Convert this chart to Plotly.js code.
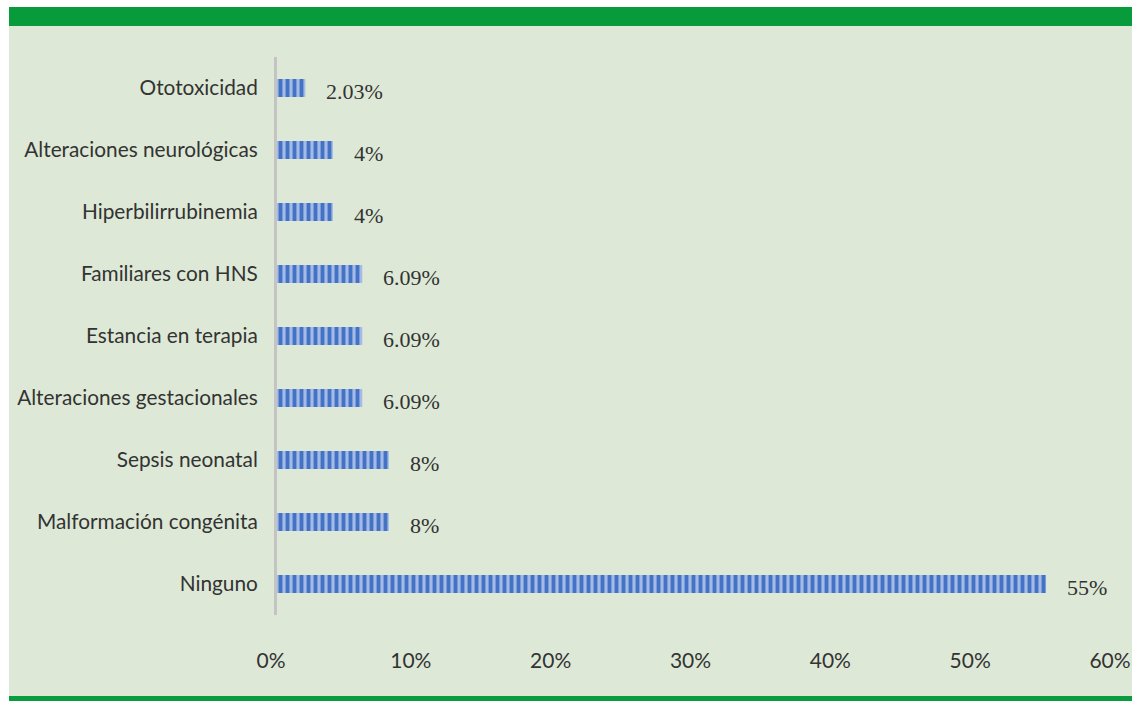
<!DOCTYPE html>
<html>
<head>
<meta charset="utf-8">
<script src="https://cdn.plot.ly/plotly-3.0.1.min.js"></script>
<style>
html,body{margin:0;padding:0;background:#fff;}
#wrap{position:relative;width:1132px;height:701px;overflow:hidden;background:#fff;}
#bg{position:absolute;left:9px;top:26px;width:1123px;height:671px;background:#dde9d6;}
#topband{position:absolute;left:9px;top:7px;width:1123px;height:19px;background:#089b3c;}
#botline{position:absolute;left:9px;top:696px;width:1123px;height:5px;background:#0a9d3f;}
#chart{position:absolute;left:0;top:0;width:1132px;height:701px;}
</style>
</head>
<body>
<div id="wrap">
<div id="bg"></div>
<div id="topband"></div>
<div id="botline"></div>
<div id="chart"></div>
</div>
<script>
var categories = ["Ninguno","Malformación congénita","Sepsis neonatal","Alteraciones gestacionales","Estancia en terapia","Familiares con HNS","Hiperbilirrubinemia","Alteraciones neurológicas","Ototoxicidad"];
var values = [55, 8, 8, 6.09, 6.09, 6.09, 4, 4, 2.03];
var valueLabels = ["55%","8%","8%","6.09%","6.09%","6.09%","4%","4%","2.03%"];
var tickVals = [0,10,20,30,40,50,60];
var tickText = ["0%","10%","20%","30%","40%","50%","60%"];

var trace = {
  type: "bar",
  orientation: "h",
  y: categories,
  x: values,
  width: 0.29,
  marker: {
    color: "#9ab3e0",
    line: {width: 0},
    pattern: {shape: "|", fgcolor: "#4472c4", bgcolor: "#a3bbe6", size: 7, solidity: 0.55}
  },
  hoverinfo: "skip"
};

var annotations = categories.map(function(c, i){
  return {
    x: values[i], y: c, xref: "x", yref: "y",
    text: valueLabels[i], showarrow: false,
    xanchor: "left", yanchor: "middle", xshift: 19, yshift: -3,
    font: {family: "Liberation Serif, DejaVu Serif, serif", size: 22, color: "#333333"}
  };
});

var layout = {
  width: 1132, height: 701,
  paper_bgcolor: "rgba(0,0,0,0)",
  plot_bgcolor: "rgba(0,0,0,0)",
  margin: {l: 277, r: 16, t: 57, b: 86},
  showlegend: false,
  xaxis: {
    range: [0, 60],
    tickvals: tickVals, ticktext: tickText,
    showgrid: false, zeroline: false, showline: false,
    ticks: "", ticklabelstandoff: 31, ticklabelshift: -6,
    tickfont: {family: "Lato, Open Sans, sans-serif", size: 21, color: "#333333"},
    fixedrange: true
  },
  yaxis: {
    type: "category",
    range: [-0.5, 8.5],
    showgrid: false, zeroline: false,
    showline: true, linecolor: "#c4c4c4", linewidth: 3,
    ticks: "", ticklabelstandoff: 12,
    tickfont: {family: "Lato, Open Sans, sans-serif", size: 20.8, color: "#333333"},
    fixedrange: true
  },
  annotations: annotations
};

Plotly.newPlot("chart", [trace], layout, {displayModeBar: false, staticPlot: true});
</script>
</body>
</html>
